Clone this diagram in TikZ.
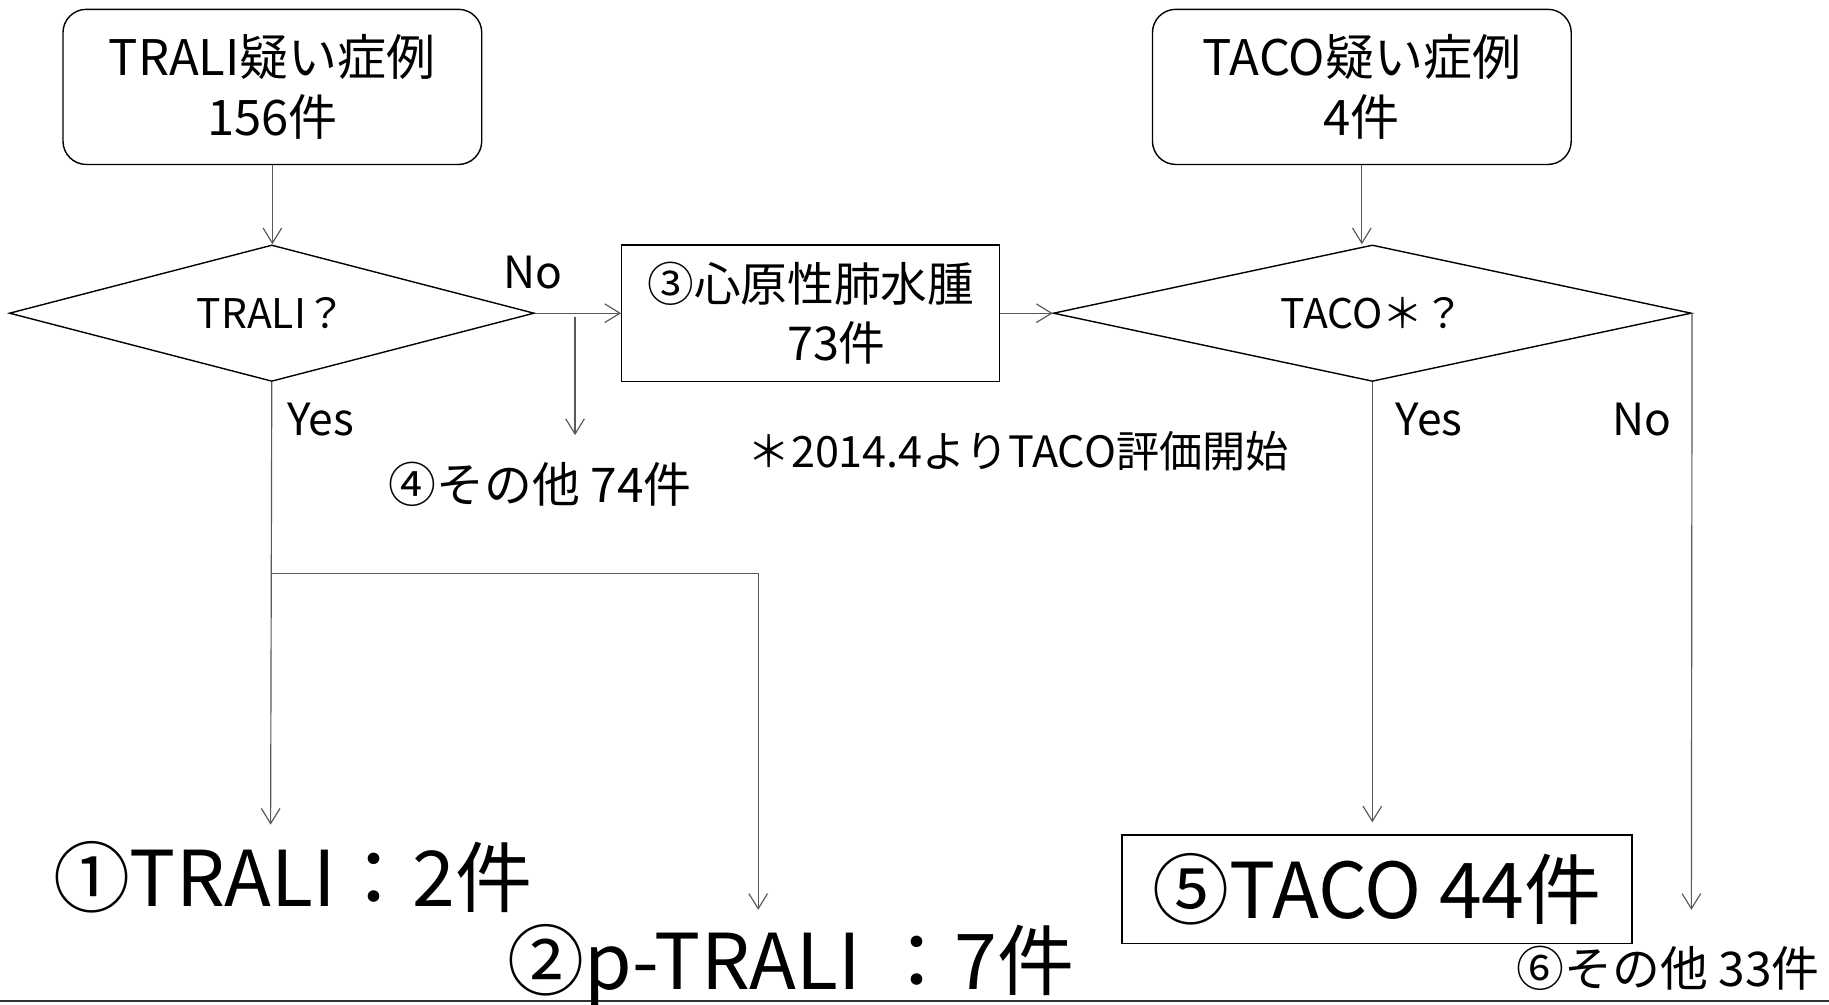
\documentclass[tikz,border=0pt]{standalone}
\usepackage{fontspec}
\setmainfont{Noto Sans CJK JP}
\usetikzlibrary{shapes.geometric,arrows.meta}
\begin{document}
\begin{tikzpicture}[x=1pt,y=-1pt,
 box/.style={draw=black, line width=1.2pt, align=center, inner sep=0pt},
 rbox/.style={box, rounded corners=20pt, minimum width=359pt, minimum height=133pt, font=\fontsize{42}{51}\selectfont},
 dia/.style={draw=black, line width=1.2pt, shape=diamond, shape aspect=4, inner sep=0pt, font=\fontsize{35}{40}\selectfont},
 conn/.style={draw=gray!70!black, line width=1pt, -{Straight Barb[length=13pt,width=16pt]}},
 lab/.style={font=\fontsize{38}{44}\selectfont, inner sep=0pt},
 big/.style={font=\fontsize{66}{72}\selectfont, inner sep=0pt},
 mid/.style={font=\fontsize{41}{46}\selectfont, inner sep=0pt}]
\fill[white] (0,0) rectangle (1568,861);
\useasboundingbox (0,0) rectangle (1568,861);
\draw[line width=2pt, draw=gray!40!black] (0,858) -- (1568,858);

\node[rbox] (trali) at (233.5,74.5) {TRALI疑い症例\\156件};
\node[rbox] (taco) at (1167.5,74.5) {TACO疑い症例\\4件};
\node[dia, minimum width=450pt, minimum height=117pt] (d1) at (233,268.5) {TRALI？};
\node[dia, minimum width=547pt, minimum height=117pt] (d2) at (1176.5,268.5) {TACO＊？};
\node[box, minimum width=324pt, minimum height=117pt, font=\fontsize{40}{50}\selectfont] (b3) at (695,268.5) {③心原性肺水腫\\\hspace*{44pt}73件};
\node[box, minimum width=437pt, minimum height=93pt, font=\fontsize{66}{72}\selectfont] (r5) at (1180.5,762.5) {⑤TACO 44件};

\node[big] (r1) at (251,752) {①TRALI：2件};
\node[big] (r2) at (678,828) {②p-TRALI ：7件};
\node[mid] (o4) at (463,415) {④その他 74件};
\node[mid] (o6) at (1430,830) {⑥その他 33件};
\node[font=\fontsize{37}{42}\selectfont, inner sep=0pt] (note) at (873,387) {＊2014.4よりTACO評価開始};

\node[lab] (no1) at (457,234) {No};
\node[lab] (yes1) at (275,360) {Yes};
\node[lab] (yes2) at (1225,360) {Yes};
\node[lab] (no2) at (1408,360) {No};

\draw[conn] (trali.south) -- (trali.south |- d1.north);
\draw[conn] (d1.east) -- (b3.west);
\coordinate (br1) at (493,272);
\coordinate (e4) at (493,373);
\draw[conn] (br1) -- (e4);
\draw[conn] (b3.east) -- (d2.west);
\draw[conn] (taco.south) -- (taco.south |- d2.north);
\coordinate (e1) at (232,707);
\draw[conn] (d1.south) -- (e1);
\coordinate (j1) at (232,492);
\coordinate (e2) at (650,780);
\draw[conn] (j1) -- (e2 |- j1) -- (e2);
\coordinate (e5) at (1176.5,705);
\draw[conn] (d2.south) -- (e5);
\coordinate (e6) at (1450,780);
\draw[conn] (d2.east) -- (e6);
\end{tikzpicture}
\end{document}
